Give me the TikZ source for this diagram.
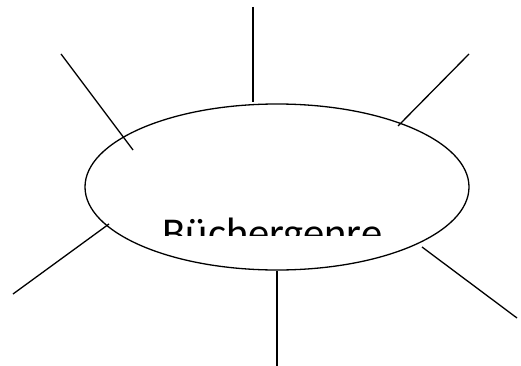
\documentclass[tikz,border=0pt]{standalone}
\usepackage{fontspec}
\setmainfont{Carlito}
\usetikzlibrary{shapes.geometric}

\begin{document}
\begin{tikzpicture}[x=1pt, y=-1pt,
	genre/.style={ellipse, draw, line width=1.3pt, minimum width=384pt,
		minimum height=166pt, inner sep=0pt},
	label/.style={font=\fontsize{42.5}{50}\selectfont, inner sep=0pt, anchor=base},
	ray/.style={line width=1.3pt},
	]
	\useasboundingbox (0,0) rectangle (521,366);
	
	% Centre ellipse
	\node[genre] (mitte) at (277,187) {};
	
	% Text, cut off at its lower part
	\begin{scope}
		\clip (0,0) rectangle (521,235);
		\node[label] (titel) at (272.5,247) {Büchergenre};
	\end{scope}
	
	% Ends of the rays
	\coordinate (oben)   at (253,7);
	\coordinate (obenE)  at (253,102);
	\coordinate (lo)     at (61,54);
	\coordinate (loE)    at (133,150);
	\coordinate (ro)     at (469,54);
	\coordinate (roE)    at (398,126);
	\coordinate (lu)     at (13,294);
	\coordinate (luE)    at (109,224);
	\coordinate (ru)     at (517,318);
	\coordinate (ruE)    at (422,247);
	\coordinate (unten)  at (277,366);
	
	% Rays
	\draw[ray] (oben) -- (obenE);
	\draw[ray] (lo) -- (loE);
	\draw[ray] (ro) -- (roE);
	\draw[ray] (lu) -- (luE);
	\draw[ray] (ru) -- (ruE);
	\draw[ray] (unten) -- (mitte.south);
\end{tikzpicture}
\end{document}
